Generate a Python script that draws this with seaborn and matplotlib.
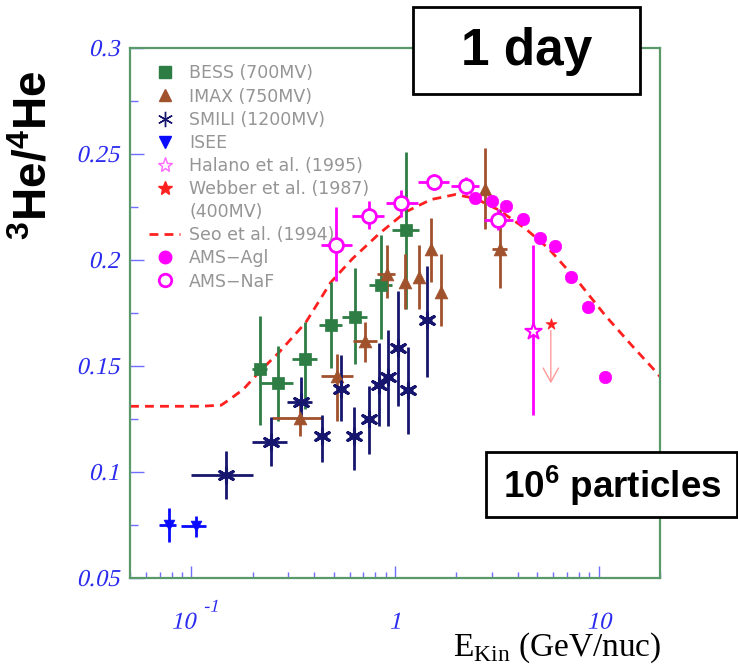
import numpy as np
import pandas as pd
import matplotlib
matplotlib.use("Agg")
import matplotlib.pyplot as plt
from matplotlib.font_manager import FontProperties
from matplotlib.patheffects import AbstractPathEffect
from matplotlib.transforms import Affine2D
import seaborn as sns
from matplotlib.lines import Line2D
from matplotlib.patches import Rectangle

sns.set_style("white")
plt.rcParams['font.family'] = ['DejaVu Sans']
plt.rcParams['text.color'] = 'black'
plt.rcParams['mathtext.fontset'] = 'custom'
plt.rcParams['mathtext.rm'] = 'Liberation Serif'
plt.rcParams['mathtext.bf'] = 'Liberation Sans:bold'

# ---------------- data ----------------
bess_e = [0.218, 0.265, 0.362, 0.484, 0.634, 0.851, 1.135]
bess_r = [0.1488, 0.1418, 0.1532, 0.1695, 0.1733, 0.188, 0.214]
bess_rlo = [0.1224, 0.124, 0.1295, 0.149, 0.151, 0.1627, 0.177]
bess_rhi = [0.1737, 0.1595, 0.1706, 0.1895, 0.196, 0.2116, 0.251]
bess_elo = [0.199, 0.220, 0.312, 0.424, 0.550, 0.746, 0.966]
bess_ehi = [0.236, 0.314, 0.415, 0.550, 0.730, 0.966, 1.310]

imax_e = [0.341, 0.52, 0.71, 0.917, 1.12, 1.31, 1.51, 1.68, 2.76, 3.27]
imax_r = [0.1256, 0.1453, 0.162, 0.1935, 0.1895, 0.192, 0.205, 0.185, 0.2334, 0.205]
imax_rlo = [0.1169, 0.124, 0.1517, 0.182, 0.177, 0.177, 0.1895, 0.169, 0.2148, 0.187]
imax_rhi = [0.1328, 0.1556, 0.1706, 0.207, 0.203, 0.207, 0.22, 0.203, 0.2527, 0.224]
imax_elo = [0.25, 0.432, 0.624, 0.82, 1.12, 1.31, 1.51, 1.68, 2.76, 3.0]
imax_ehi = [0.44, 0.622, 0.817, 1.0, 1.12, 1.31, 1.51, 1.68, 2.76, 3.55]

smili_e = [0.148, 0.246, 0.345, 0.438, 0.542, 0.63, 0.747, 0.836, 0.927, 1.035, 1.16, 1.43]
smili_r = [0.0988, 0.114, 0.133, 0.117, 0.139, 0.117, 0.125, 0.141, 0.145, 0.1586, 0.1385, 0.1717]
smili_rlo = [0.0875, 0.1026, 0.125, 0.1046, 0.124, 0.1008, 0.1087, 0.1216, 0.1216, 0.131, 0.118, 0.145]
smili_rhi = [0.110, 0.1258, 0.145, 0.127, 0.155, 0.1305, 0.1406, 0.161, 0.167, 0.1855, 0.159, 0.197]
smili_elo = [0.100, 0.198, 0.295, 0.413, 0.512, 0.595, 0.705, 0.79, 0.875, 0.977, 1.095, 1.35]
smili_ehi = [0.200, 0.295, 0.390, 0.464, 0.574, 0.668, 0.792, 0.886, 0.983, 1.097, 1.23, 1.515]

isee_e = [0.078, 0.105]
isee_r = [0.0751, 0.0743]
isee_rlo = [0.067, 0.0695]
isee_rhi = [0.083, 0.0792]
isee_elo = [0.0697, 0.0893]
isee_ehi = [0.0844, 0.1186]

naf_e = [0.512, 0.747, 1.067, 1.55, 2.22, 3.2]
naf_r = [0.207, 0.2208, 0.227, 0.237, 0.235, 0.219]
naf_rlo = [0.19, 0.2148, 0.2205, 0.233, 0.2306, 0.214]
naf_rhi = [0.225, 0.2276, 0.233, 0.2408, 0.239, 0.224]
naf_elo = [0.432, 0.614, 0.90, 1.29, 1.88, 2.72]
naf_ehi = [0.614, 0.88, 1.29, 1.84, 2.58, 3.78]

agl_e = [2.47, 2.98, 3.51, 4.25, 5.17, 6.13, 7.34, 8.86, 10.7]
agl_r = [0.2293, 0.228, 0.2255, 0.2195, 0.2103, 0.2066, 0.192, 0.1778, 0.1448]
agl_rlo = [0.2273, 0.226, 0.2235, 0.2175, 0.2083, 0.2046, 0.1895, 0.175, 0.1423]
agl_rhi = [0.2313, 0.230, 0.2275, 0.2215, 0.2123, 0.2086, 0.1945, 0.1806, 0.1473]
agl_elo = [2.34, 2.82, 3.32, 4.02, 4.89, 5.80, 6.95, 8.38, 10.1]
agl_ehi = [2.61, 3.15, 3.71, 4.49, 5.47, 6.48, 7.76, 9.37, 11.3]

halano_e = [4.78]
halano_r = [0.1666]
halano_rlo = [0.127]
halano_rhi = [0.2069]

webber_e = [5.82]
webber_r = [0.170]
webber_arrow_to = [0.1405]

seo_e = [0.05, 0.08, 0.11, 0.14, 0.153, 0.18, 0.218, 0.27, 0.365, 0.484, 0.618,
         0.836, 1.13, 1.5, 1.98, 2.49, 3.24, 4.37, 5.69, 7.98, 10.8, 14.6, 18.6, 20.0]
seo_r = [0.131, 0.131, 0.131, 0.1315, 0.134, 0.139, 0.1477, 0.1565, 0.1706, 0.1895, 0.2006,
         0.2124, 0.2227, 0.2285, 0.2309, 0.229, 0.2235, 0.2148, 0.2053, 0.1895, 0.1737, 0.1595, 0.1485, 0.145]

y_ticks = [0.05, 0.1, 0.15, 0.2, 0.25, 0.3]
y_ticklabels = ['0.05', '0.1', '0.15', '0.2', '0.25', '0.3']
x_ticks = [0.1, 1, 10]
x_ticklabels = ['', '1', '10']
x_power_base = ['10', '', '']
x_power_exp = ['-1', '', '']

legend_labels = ['BESS (700MV)', 'IMAX (750MV)', 'SMILI (1200MV)', 'ISEE',
                 'Halano et al. (1995)', 'Webber et al. (1987)', '(400MV)',
                 'Seo et al. (1994)', 'AMS\u2212Agl', 'AMS\u2212NaF']


# ---------------- slanted (italic-looking) serif text ----------------
class Slant(AbstractPathEffect):
    def __init__(self, deg=13):
        super().__init__()
        self.deg = deg

    def draw_path(self, renderer, gc, tpath, affine, rgbFace=None):
        y0 = affine.get_matrix()[1, 2]
        sk = Affine2D().translate(0, -y0).skew_deg(self.deg, 0).translate(0, y0)
        renderer.draw_path(gc, tpath, affine + sk, rgbFace)


fp_y = FontProperties(family='Liberation Serif', size=17.5)
fp_x = FontProperties(family='Liberation Serif', size=17.5)
fp_sup = FontProperties(family='Liberation Serif', size=13)
slant = [Slant(13)]

# ---------------- styling ----------------
C_BESS = '#2e7d45'
C_IMAX = '#a0522d'
C_SMILI = '#16166e'
C_ISEE = '#0a0aff'
C_MAG = '#ff00ff'
C_RED = '#ff2020'
C_FRAME = '#5a9a6a'
C_TICK = '#2b2bef'

W, H = 738, 666
fig = plt.figure(figsize=(W / 100, H / 100), dpi=100)
ax = fig.add_axes([130 / W, 1 - 578 / H, 530 / W, 530 / H])
ax.set_xscale('log')
ax.set_xlim(0.05, 20)
ax.set_ylim(0.05, 0.3)

# Seo curve
seo_df = pd.DataFrame({'E': seo_e, 'R': seo_r})
sns.lineplot(data=seo_df, x='E', y='R', ax=ax, color=C_RED, lw=2,
             dashes=False, zorder=1, sort=False)
ax.lines[-1].set_dashes((3.2, 2.2))


def errs(v, lo, hi):
    v = np.asarray(v)
    return [v - np.asarray(lo), np.asarray(hi) - v]


def series(e, r, rlo, rhi, elo, ehi, color, lw, marker, s, z=3, fill=True, elw=None):
    ax.errorbar(e, r, yerr=errs(r, rlo, rhi), xerr=errs(e, elo, ehi),
                fmt='none', ecolor=color, elinewidth=lw, capsize=0, zorder=z)
    df = pd.DataFrame({'E': e, 'R': r})
    if fill:
        sns.scatterplot(data=df, x='E', y='R', ax=ax, marker=marker, s=s, color=color,
                        edgecolor=color, linewidth=elw if elw else 0.5, legend=False, zorder=z + 0.5)
    else:
        sns.scatterplot(data=df, x='E', y='R', ax=ax, marker=marker, s=s, facecolor='white',
                        edgecolor=color, linewidth=2, legend=False, zorder=z + 0.5)


series(bess_e, bess_r, bess_rlo, bess_rhi, bess_elo, bess_ehi, C_BESS, 2, 's', 80)
series(imax_e, imax_r, imax_rlo, imax_rhi, imax_elo, imax_ehi, C_IMAX, 2, '^', 85)
series(smili_e, smili_r, smili_rlo, smili_rhi, smili_elo, smili_ehi, C_SMILI, 2, (6, 2, 0), 120, elw=2.2)
series(isee_e, isee_r, isee_rlo, isee_rhi, isee_elo, isee_ehi, C_ISEE, 2, 'v', 60)
series(naf_e, naf_r, naf_rlo, naf_rhi, naf_elo, naf_ehi, C_MAG, 2, 'o', 100, z=4, fill=False)
series(agl_e, agl_r, agl_rlo, agl_rhi, agl_elo, agl_ehi, C_MAG, 1.5, 'o', 80, z=4)

# Halano
ax.errorbar(halano_e, halano_r, yerr=errs(halano_r, halano_rlo, halano_rhi), fmt='none',
            ecolor=C_MAG, elinewidth=2, zorder=4)
sns.scatterplot(x=halano_e, y=halano_r, ax=ax, marker='*', s=150, facecolor='white',
                edgecolor=C_MAG, linewidth=1.5, legend=False, zorder=5)
# Webber
sns.scatterplot(x=webber_e, y=webber_r, ax=ax, marker='*', s=70, color=C_RED,
                edgecolor=C_RED, linewidth=0.5, legend=False, zorder=5)
ax.annotate('', xy=(webber_e[0], webber_arrow_to[0]), xytext=(webber_e[0], webber_r[0] - 0.002),
            arrowprops=dict(arrowstyle='->,head_length=1.0,head_width=0.55', color='#ff9a9a', lw=1),
            zorder=4)

# axes styling
for sp in ax.spines.values():
    sp.set_color(C_FRAME)
    sp.set_linewidth(1.6)
    sp.set_visible(True)
ax.set_xlabel('')
ax.set_ylabel('')
ax.set_yticks(y_ticks)
ax.set_yticks([0.075, 0.125, 0.175, 0.225, 0.275], minor=True)
ax.set_yticklabels(y_ticklabels, fontproperties=fp_y, color=C_TICK)
ax.set_xticks(x_ticks)
ax.set_xticklabels(x_ticklabels, fontproperties=fp_x, color=C_TICK)
for lab in ax.get_xticklabels():
    lab.set_va('baseline')
    lab.set_path_effects(slant)
for lab in ax.get_yticklabels():
    lab.set_path_effects(slant)
ax.tick_params(axis='both', which='both', direction='in', color='#6f6fff',
               top=False, right=False, left=True, bottom=True, width=1)
ax.tick_params(axis='y', which='major', length=10, pad=8)
ax.tick_params(axis='y', which='minor', length=6)
ax.tick_params(axis='x', which='major', length=9, pad=36.5)
ax.tick_params(axis='x', which='minor', length=4.5, labelbottom=False)
ax.xaxis.set_minor_formatter(matplotlib.ticker.NullFormatter())
# power-of-ten tick label (10^-1)
for xt, base, ex in zip(x_ticks, x_power_base, x_power_exp):
    if base:
        ax.annotate(base, xy=(xt, 0), xycoords=('data', 'axes fraction'),
                    xytext=(-6, -36.5), textcoords='offset points', ha='center',
                    va='baseline', fontproperties=fp_x, color=C_TICK,
                    annotation_clip=False, path_effects=slant)
        ax.annotate(ex, xy=(xt, 0), xycoords=('data', 'axes fraction'),
                    xytext=(14, -21), textcoords='offset points', ha='center',
                    va='center', fontproperties=fp_sup, color=C_TICK,
                    annotation_clip=False, path_effects=slant)

# legend
handles = [
    Line2D([], [], ls='none', marker='s', color=C_BESS, ms=9),
    Line2D([], [], ls='none', marker='^', color=C_IMAX, ms=9),
    Line2D([], [], ls='none', marker=(6, 2, 0), color=C_SMILI, ms=11, mew=1),
    Line2D([], [], ls='none', marker='v', color=C_ISEE, ms=9),
    Line2D([], [], ls='none', marker='*', mfc='white', mec='#ff66ff', ms=11, mew=1),
    Line2D([], [], ls='none', marker='*', color=C_RED, ms=10),
    Line2D([], [], ls='none'),
    Line2D([], [], color=C_RED, lw=2, dashes=(3.2, 2.2)),
    Line2D([], [], ls='none', marker='o', color=C_MAG, ms=9),
    Line2D([], [], ls='none', marker='o', mfc='white', mec=C_MAG, ms=9, mew=2),
]
leg = ax.legend(handles, legend_labels, loc='upper left', bbox_to_anchor=(0.036, 0.969),
                frameon=False, fontsize=12.5, labelcolor='#959595', borderpad=0,
                borderaxespad=0, labelspacing=0.295, handlelength=1.8, handletextpad=0.5)

# y label
fig.text(34 / W, 1 - 155 / H, r'$\mathbf{{}^{3}He/{}^{4}He}$', rotation=90,
         fontsize=33, ha='center', va='center', color='black')
# x label
fig.text(453 / W, 1 - 656 / H, r'E$_{\mathrm{Kin}}$ (GeV/nuc)', fontfamily='Liberation Serif',
         fontsize=24, ha='left', va='baseline', color='black')

# boxes
box1 = Rectangle((413 / W, 1 - 94 / H), 227 / W, 87 / H, transform=fig.transFigure,
                 facecolor='white', edgecolor='black', lw=2, zorder=10)
fig.add_artist(box1)
fig.text(527 / W, 1 - 52 / H, '1 day', fontfamily='Liberation Sans', fontweight='bold',
         fontsize=37, ha='center', va='center', zorder=11, color='black')
box2 = Rectangle((486 / W, 1 - 517 / H), 251 / W, 65 / H, transform=fig.transFigure,
                 facecolor='white', edgecolor='black', lw=2, zorder=10)
fig.add_artist(box2)
fig.text(612 / W, 1 - 486 / H, r'$\mathbf{10^6}$ particles', fontfamily='Liberation Sans',
         fontweight='bold', fontsize=26.5, ha='center', va='center', zorder=11, color='black')

fig.savefig('out.png', dpi=100)
